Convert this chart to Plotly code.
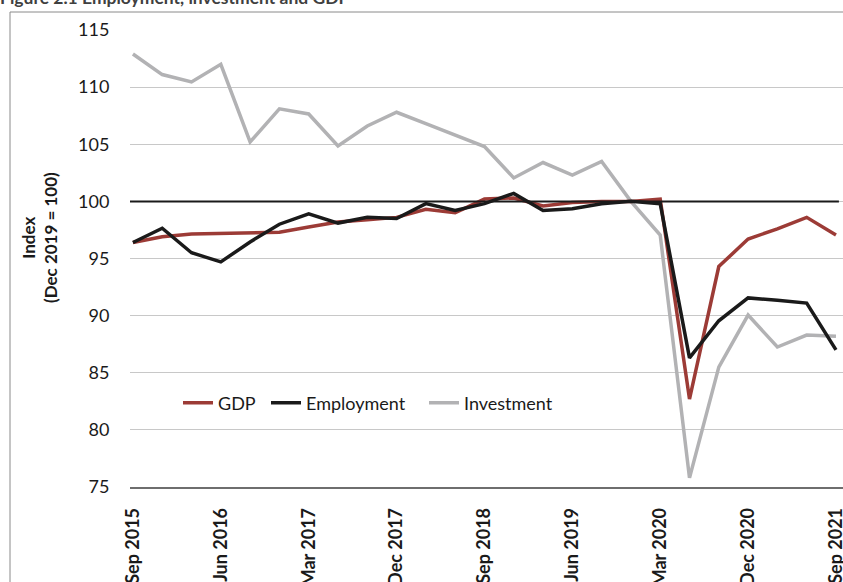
import plotly.graph_objects as go

quarters = [
    "Sep 2015", "Dec 2015", "Mar 2016", "Jun 2016", "Sep 2016", "Dec 2016",
    "Mar 2017", "Jun 2017", "Sep 2017", "Dec 2017", "Mar 2018", "Jun 2018",
    "Sep 2018", "Dec 2018", "Mar 2019", "Jun 2019", "Sep 2019", "Dec 2019",
    "Mar 2020", "Jun 2020", "Sep 2020", "Dec 2020", "Mar 2021", "Jun 2021",
    "Sep 2021",
]
tick_labels = quarters[::3]

gdp = [96.4, 96.9, 97.15, 97.2, 97.2, 97.3, 97.75, 98.2, 98.4, 98.6, 99.3, 99.0,
       100.2, 100.3, 99.6, 99.9, 100.0, 100.0, 100.2, 82.7, 94.3, 96.7, 97.6,
       98.6, 97.05]
employment = [96.4, 97.65, 95.5, 94.7, 96.45, 98.0, 98.9, 98.1, 98.6, 98.5,
              99.8, 99.2, 99.8, 100.7, 99.2, 99.35, 99.8, 100.0, 99.8, 86.3,
              89.55, 91.55, 91.35, 91.1, 87.0]
investment = [112.9, 111.1, 110.45, 112.0, 105.2, 108.1, 107.65, 104.85, 106.6,
              107.8, 106.8, 105.8, 104.8, 102.05, 103.4, 102.3, 103.5, 100.0,
              97.05, 75.8, 85.5, 90.05, 87.25, 88.3, 88.2]
base_level = 100

W, H = 843, 582
L, R, T, B = 130, 0, 30, 95
pw, ph = W - L - R, H - T - B


def px_x(p):
    return (p - L) / pw


def px_y(p):
    return (H - B - p) / ph


fig = go.Figure()
fig.add_trace(go.Scatter(x=quarters, y=investment, name="Investment", mode="lines",
                         line=dict(color="#b2b2b4", width=3.5), legend="legend3"))
fig.add_trace(go.Scatter(x=quarters, y=gdp, name="GDP", mode="lines",
                         line=dict(color="#9c3b36", width=3.5), legend="legend"))
fig.add_trace(go.Scatter(x=quarters, y=employment, name="Employment", mode="lines",
                         line=dict(color="#1a1a1a", width=3.5), legend="legend2"))

# reference line at 100
fig.add_shape(type="line", xref="x", yref="y", x0=-0.1, x1=24.1,
              y0=base_level, y1=base_level, line=dict(color="#1a1a1a", width=2),
              layer="above")

# chart area border (top and left)
fig.add_shape(type="line", xref="paper", yref="paper",
              x0=px_x(10), x1=1.0, y0=px_y(12), y1=px_y(12),
              line=dict(color="#8a8a8a", width=1))
fig.add_shape(type="line", xref="paper", yref="paper",
              x0=px_x(10), x1=px_x(10), y0=px_y(12), y1=-0.3,
              line=dict(color="#8a8a8a", width=1))

fig.add_annotation(text="<b>Figure 2.1 Employment, investment and GDP</b>",
                   xref="paper", yref="paper", x=px_x(-2), y=px_y(10),
                   xanchor="left", yanchor="bottom", showarrow=False,
                   font=dict(family="Lato", size=17.5, color="#404040"))

fig.add_annotation(text="<b>Index<br>(Dec 2019 = 100)</b>", textangle=-90,
                   xref="paper", yref="paper", x=px_x(39),
                   y=px_y(238), xanchor="center", yanchor="middle",
                   showarrow=False, font=dict(family="Lato", size=17, color="#1a1a1a"))

leg_common = dict(orientation="h", xanchor="left", yanchor="middle",
                  bgcolor="rgba(0,0,0,0)", itemwidth=30,
                  font=dict(family="Lato", size=18, color="#1a1a1a"))

fig.update_layout(
    width=W, height=H,
    margin=dict(l=L, r=R, t=T, b=B, autoexpand=False),
    paper_bgcolor="white", plot_bgcolor="white",
    font=dict(family="Lato", size=18, color="#1a1a1a"),
    showlegend=True,
    legend=dict(x=px_x(178), y=px_y(403), **leg_common),
    legend2=dict(x=px_x(266), y=px_y(403), **leg_common),
    legend3=dict(x=px_x(424), y=px_y(403), **leg_common),
    xaxis=dict(type="category", range=[-0.1, 24.24], tickmode="array",
               tickvals=tick_labels, ticktext=["<b>%s</b>" % t for t in tick_labels],
               tickangle=-90, showgrid=False, showline=True, linecolor="#6e6e6e",
               linewidth=1.5, ticks="outside", ticklen=12,
               tickcolor="rgba(0,0,0,0)", automargin=False,
               tickfont=dict(family="Lato", size=18, color="#1a1a1a"),
               fixedrange=True),
    yaxis=dict(range=[75, 115], tickvals=[75, 80, 85, 90, 95, 100, 105, 110, 115],
               showgrid=True, gridcolor="#c8c8c8", gridwidth=1, zeroline=False,
               showline=False, ticks="outside", ticklen=16,
               tickcolor="rgba(0,0,0,0)", automargin=False,
               tickfont=dict(family="Lato", size=18, color="#1a1a1a"),
               fixedrange=True),
)

fig.write_html("out.html",
               config={"displayModeBar": False},
               post_script="document.body.style.margin='0';"
                           "document.body.style.overflow='hidden';")
